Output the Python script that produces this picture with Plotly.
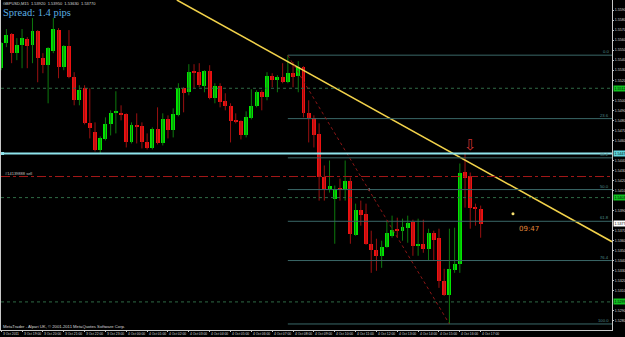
import plotly.graph_objects as go

# ---------------- data (GBPUSD, M15, 3 Oct 18:00 -> 4 Oct 17:00) ----------------
opens = [1.5532, 1.5557, 1.5566, 1.5547, 1.5555, 1.5561, 1.5555, 1.5569, 1.5542, 1.5535,
         1.5549, 1.5570, 1.5533, 1.5554, 1.5523, 1.5500, 1.5512, 1.5477, 1.5468, 1.5450,
         1.5461, 1.5476, 1.5488, 1.5487, 1.5486, 1.5458, 1.5475, 1.5474, 1.5458, 1.5452,
         1.5471, 1.5457, 1.5481, 1.5470, 1.5485, 1.5512, 1.5508, 1.5529, 1.5528, 1.5514,
         1.5529, 1.5502, 1.5514, 1.5499, 1.5494, 1.5480, 1.5479, 1.5465, 1.5482, 1.5494,
         1.5508, 1.5503, 1.5524, 1.5520, 1.5523, 1.5518, 1.5527, 1.5524, 1.5533, 1.5487,
         1.5482, 1.5466, 1.5424, 1.5412, 1.5402, 1.5412, 1.5412, 1.5420, 1.5366, 1.5391,
         1.5387, 1.5357, 1.5351, 1.5345, 1.5354, 1.5365, 1.5371, 1.5370, 1.5373, 1.5379,
         1.5355, 1.5357, 1.5352, 1.5368, 1.5363, 1.5320, 1.5306, 1.5331, 1.5337, 1.5429,
         1.5425, 1.5394, 1.5392]
highs = [1.5558, 1.5571, 1.5567, 1.5562, 1.5571, 1.5563, 1.5582, 1.5570, 1.5547, 1.5553,
         1.5582, 1.5572, 1.5555, 1.5570, 1.5528, 1.5515, 1.5515, 1.5512, 1.5478, 1.5464,
         1.5483, 1.5490, 1.5509, 1.5495, 1.5487, 1.5478, 1.5487, 1.5478, 1.5467, 1.5473,
         1.5493, 1.5487, 1.5485, 1.5492, 1.5517, 1.5513, 1.5536, 1.5536, 1.5537, 1.5530,
         1.5535, 1.5517, 1.5517, 1.5507, 1.5497, 1.5487, 1.5480, 1.5489, 1.5511, 1.5510,
         1.5510, 1.5528, 1.5527, 1.5525, 1.5537, 1.5545, 1.5538, 1.5539, 1.5534, 1.5500,
         1.5485, 1.5477, 1.5435, 1.5440, 1.5415, 1.5422, 1.5440, 1.5423, 1.5397, 1.5400,
         1.5397, 1.5370, 1.5362, 1.5360, 1.5380, 1.5385, 1.5383, 1.5382, 1.5385, 1.5381,
         1.5382, 1.5381, 1.5372, 1.5370, 1.5372, 1.5332, 1.5372, 1.5373, 1.5437, 1.5448,
         1.5428, 1.5397, 1.5395]
lows = [1.5530, 1.5553, 1.5537, 1.5540, 1.5532, 1.5532, 1.5537, 1.5518, 1.5527, 1.5497,
        1.5547, 1.5522, 1.5530, 1.5522, 1.5495, 1.5495, 1.5476, 1.5462, 1.5449, 1.5447,
        1.5460, 1.5465, 1.5467, 1.5480, 1.5453, 1.5457, 1.5457, 1.5452, 1.5451, 1.5451,
        1.5456, 1.5455, 1.5462, 1.5463, 1.5484, 1.5488, 1.5505, 1.5512, 1.5513, 1.5508,
        1.5501, 1.5497, 1.5493, 1.5490, 1.5458, 1.5477, 1.5461, 1.5463, 1.5481, 1.5493,
        1.5490, 1.5500, 1.5513, 1.5508, 1.5517, 1.5517, 1.5513, 1.5508, 1.5483, 1.5458,
        1.5453, 1.5400, 1.5400, 1.5408, 1.5357, 1.5400, 1.5400, 1.5357, 1.5365, 1.5375,
        1.5356, 1.5328, 1.5330, 1.5333, 1.5353, 1.5363, 1.5363, 1.5360, 1.5358, 1.5345,
        1.5345, 1.5348, 1.5340, 1.5340, 1.5313, 1.5305, 1.5277, 1.5328, 1.5328, 1.5393,
        1.5372, 1.5375, 1.5363]
closes = [1.5557, 1.5565, 1.5547, 1.5555, 1.5562, 1.5554, 1.5569, 1.5542, 1.5535, 1.5552,
          1.5571, 1.5533, 1.5554, 1.5523, 1.5500, 1.5510, 1.5477, 1.5472, 1.5450, 1.5462,
          1.5476, 1.5487, 1.5489, 1.5486, 1.5458, 1.5475, 1.5474, 1.5458, 1.5452, 1.5471,
          1.5457, 1.5481, 1.5470, 1.5486, 1.5512, 1.5507, 1.5528, 1.5528, 1.5515, 1.5529,
          1.5502, 1.5514, 1.5498, 1.5494, 1.5479, 1.5478, 1.5465, 1.5483, 1.5494, 1.5508,
          1.5503, 1.5524, 1.5520, 1.5523, 1.5518, 1.5527, 1.5523, 1.5533, 1.5487, 1.5482,
          1.5465, 1.5424, 1.5412, 1.5415, 1.5412, 1.5411, 1.5420, 1.5367, 1.5391, 1.5386,
          1.5357, 1.5351, 1.5345, 1.5354, 1.5368, 1.5371, 1.5370, 1.5374, 1.5378, 1.5355,
          1.5357, 1.5352, 1.5368, 1.5361, 1.5320, 1.5306, 1.5332, 1.5337, 1.5428, 1.5423,
          1.5393, 1.5392, 1.5377]

time_labels = ["3 Oct 2011", "3 Oct 19:00", "3 Oct 20:00", "3 Oct 21:00", "3 Oct 22:00",
               "3 Oct 23:00", "4 Oct 00:00", "4 Oct 01:00", "4 Oct 02:00", "4 Oct 03:00",
               "4 Oct 04:00", "4 Oct 05:00", "4 Oct 06:00", "4 Oct 07:00", "4 Oct 08:00",
               "4 Oct 09:00", "4 Oct 10:00", "4 Oct 11:00", "4 Oct 12:00", "4 Oct 13:00",
               "4 Oct 14:00", "4 Oct 15:00", "4 Oct 16:00", "4 Oct 17:00"]
bars_per_label = 4

# price scale labels (every 10 pips)
price_ticks = [1.5280, 1.5290, 1.5300, 1.5310, 1.5320, 1.5330, 1.5340, 1.5350, 1.5360,
               1.5370, 1.5380, 1.5390, 1.5400, 1.5410, 1.5420, 1.5430, 1.5440, 1.5450, 1.5460,
               1.5470, 1.5480, 1.5490, 1.5500, 1.5510, 1.5520, 1.5530, 1.5540, 1.5550, 1.5560,
               1.5570, 1.5580, 1.5590]

# horizontal levels
support_level = 1.5447            # cyan line
dotted_levels = [1.5512, 1.5403, 1.5299]
sell_level = 1.5424               # red dash-dot order line
fib_start_bar, fib_end_bar = 55, 86
fib_high, fib_low = 1.5545, 1.5277
fib_ratios = [0.0, 23.6, 38.2, 50.0, 61.8, 76.4, 100.0]
trend_pts_x = [33.7, 117.2]
trend_pts_y = [1.5600, 1.5359]
trend_dot = (98.2, 1.5387)
white_dot = (70.6, 1.5411)
arrow_pt = (90, 1.5455)
timer_text, timer_pt = "09:47", (99, 1.5372)
spread_text = "Spread: 1.4 pips"

n = len(opens)
idx = list(range(n))
XMIN, XMAX = -0.04, 117.2
YMIN, YMAX = 1.5271, 1.5600
label_ticks = list(range(0, n, bars_per_label))
SMALL = "Liberation Sans, Arial, sans-serif"

fig = go.Figure()

# wicks
for bull, col in ((True, "#0d7a0d"), (False, "#9a1010")):
    wx, wy = [], []
    for i in idx:
        if (closes[i] >= opens[i]) == bull:
            wx += [i, i, None]
            wy += [lows[i], highs[i], None]
    fig.add_trace(go.Scatter(x=wx, y=wy, mode="lines", line=dict(color=col, width=1),
                             hoverinfo="skip", showlegend=False))

# bodies
for bull, col in ((True, "#00e600"), (False, "#ee1111")):
    bx, bb, bh = [], [], []
    for i in idx:
        if (closes[i] >= opens[i]) == bull:
            bx.append(i)
            bb.append(min(opens[i], closes[i]))
            bh.append(max(abs(closes[i] - opens[i]), 0.00008))
    fig.add_trace(go.Bar(x=bx, y=bh, base=bb, width=0.76, marker=dict(color=col, line=dict(width=0)),
                         showlegend=False, hoverinfo="skip"))

shapes = []
for lv in dotted_levels:
    shapes.append(dict(type="line", xref="x", yref="y", x0=XMIN, x1=XMAX, y0=lv, y1=lv,
                       line=dict(color="#2f6a45", width=1, dash="dot")))
shapes.append(dict(type="line", xref="x", yref="y", x0=XMIN, x1=XMAX, y0=sell_level, y1=sell_level,
                   line=dict(color="#a41818", width=1, dash="dashdot")))
fib_vals = [fib_high - r / 100.0 * (fib_high - fib_low) for r in fib_ratios]
for r, v in zip(fib_ratios, fib_vals):
    shapes.append(dict(type="line", xref="x", yref="y", x0=fib_start_bar, x1=XMAX, y0=v, y1=v,
                       line=dict(color="#3a6868", width=1)))
shapes.append(dict(type="line", xref="x", yref="y", x0=fib_start_bar, x1=fib_end_bar,
                   y0=fib_high, y1=fib_low, line=dict(color="#8a1515", width=1, dash="dot")))
shapes.append(dict(type="line", xref="x", yref="y", x0=XMIN, x1=XMAX, y0=support_level, y1=support_level,
                   line=dict(color="#8fe4ec", width=2)))

fig.add_trace(go.Scatter(x=trend_pts_x, y=trend_pts_y, mode="lines",
                         line=dict(color="#f2d24a", width=1.5), hoverinfo="skip", showlegend=False))
fig.add_trace(go.Scatter(x=[trend_dot[0]], y=[trend_dot[1]], mode="markers",
                         marker=dict(color="#f8e070", size=3), hoverinfo="skip", showlegend=False))
fig.add_trace(go.Scatter(x=[white_dot[0]], y=[white_dot[1]], mode="markers",
                         marker=dict(color="#ffffff", size=2), hoverinfo="skip", showlegend=False))
fig.add_trace(go.Scatter(x=[XMIN + 0.3], y=[support_level], mode="markers",
                         marker=dict(color="#8fe4ec", size=3, symbol="square"), hoverinfo="skip",
                         showlegend=False))

annotations = []
for r, v in zip(fib_ratios, fib_vals):
    annotations.append(dict(x=XMAX - 0.3, y=v, xref="x", yref="y", text=f"{r:.1f}", showarrow=False,
                            xanchor="right", yanchor="bottom", font=dict(size=4.2, color="#4f8a8a",
                            family=SMALL), borderpad=0))
annotations.append(dict(x=arrow_pt[0], y=arrow_pt[1], xref="x", yref="y", text="⇩", showarrow=False,
                        font=dict(size=15, color="#c83030", family="DejaVu Sans")))
annotations.append(dict(x=timer_pt[0], y=timer_pt[1], xref="x", yref="y", text=timer_text,
                        showarrow=False, xanchor="left",
                        font=dict(size=7, color="#e08a3a", family="DejaVu Sans")))
annotations.append(dict(x=XMIN + 0.6, y=sell_level, xref="x", yref="y", text="#14139888 sell",
                        showarrow=False, xanchor="left", yanchor="bottom", borderpad=0,
                        font=dict(size=4, color="#c0c0c0", family=SMALL)))
hdr = "GBPUSD,M15  {:.5f}  {:.5f}  {:.5f}  {:.5f}".format(opens[-1], highs[-1], lows[-1], closes[-1])
annotations.append(dict(x=0.002, y=1.0, xref="paper", yref="paper", text=hdr, showarrow=False,
                        xanchor="left", yanchor="top", borderpad=0,
                        font=dict(size=4.0, color="#d8d8d8", family=SMALL)))
annotations.append(dict(x=0.002, y=1.0, yshift=-6, xref="paper", yref="paper", text=spread_text,
                        showarrow=False, xanchor="left", yanchor="top", borderpad=0,
                        font=dict(size=10.5, color="#5aaee0",
                                  family="Liberation Serif, Times New Roman, serif")))
annotations.append(dict(x=0.002, y=0.0, xref="paper", yref="paper",
                        text="MetaTrader - Alpari UK, © 2001-2011 MetaQuotes Software Corp.",
                        showarrow=False, xanchor="left", yanchor="bottom", borderpad=0,
                        font=dict(size=4.2, color="#d8d8d8", family=SMALL)))
# time labels, left-aligned on their ticks (as the terminal draws them)
for t, lab in zip(label_ticks, time_labels):
    annotations.append(dict(x=t, y=0, xref="x", yref="paper", text=lab, showarrow=False,
                            xanchor="left", yanchor="top", yshift=-1, xshift=0.5, borderpad=0,
                            font=dict(size=3.3, color="#d8d8d8", family=SMALL)))
hl = [(dotted_levels[0], "#10c020"), (support_level, "#60d4dc"), (dotted_levels[1], "#10c020"),
      (closes[-1], "#ffffff"), (dotted_levels[2], "#10c020")]
for v, c in hl:
    annotations.append(dict(x=1.0, y=v, xref="paper", yref="y", text=f"{v:.4f}", showarrow=False,
                            xanchor="left", bgcolor=c, borderpad=0.5, xshift=1,
                            font=dict(size=3.6, color="#000000", family=SMALL)))

# plain scale labels that would sit under a highlighted label are hidden (as the terminal does)
shown_ticks = [t for t in price_ticks if all(abs(t - v) > 0.00045 for v, _ in hl)]

fig.update_layout(
    width=625, height=337, template="none",
    paper_bgcolor="#000000", plot_bgcolor="#000000",
    margin=dict(l=1, r=13, t=0, b=7),
    barmode="overlay", bargap=0, showlegend=False,
    shapes=shapes, annotations=annotations,
    xaxis=dict(range=[XMIN, XMAX], tickvals=label_ticks, showticklabels=False,
               ticks="outside", ticklen=1, tickcolor="#c8c8c8",
               showgrid=False, zeroline=False, showline=True, linecolor="#c8c8c8", linewidth=1,
               automargin=False, fixedrange=True),
    yaxis=dict(range=[YMIN, YMAX], side="right", tickvals=shown_ticks, tickformat=".4f",
               ticks="outside", ticklen=1, tickcolor="#c8c8c8",
               tickfont=dict(size=3.6, color="#d8d8d8", family=SMALL),
               showgrid=False, zeroline=False, showline=True, mirror=True, linecolor="#c8c8c8",
               linewidth=1, automargin=False, fixedrange=True),
)

fig.write_html("out.html")
